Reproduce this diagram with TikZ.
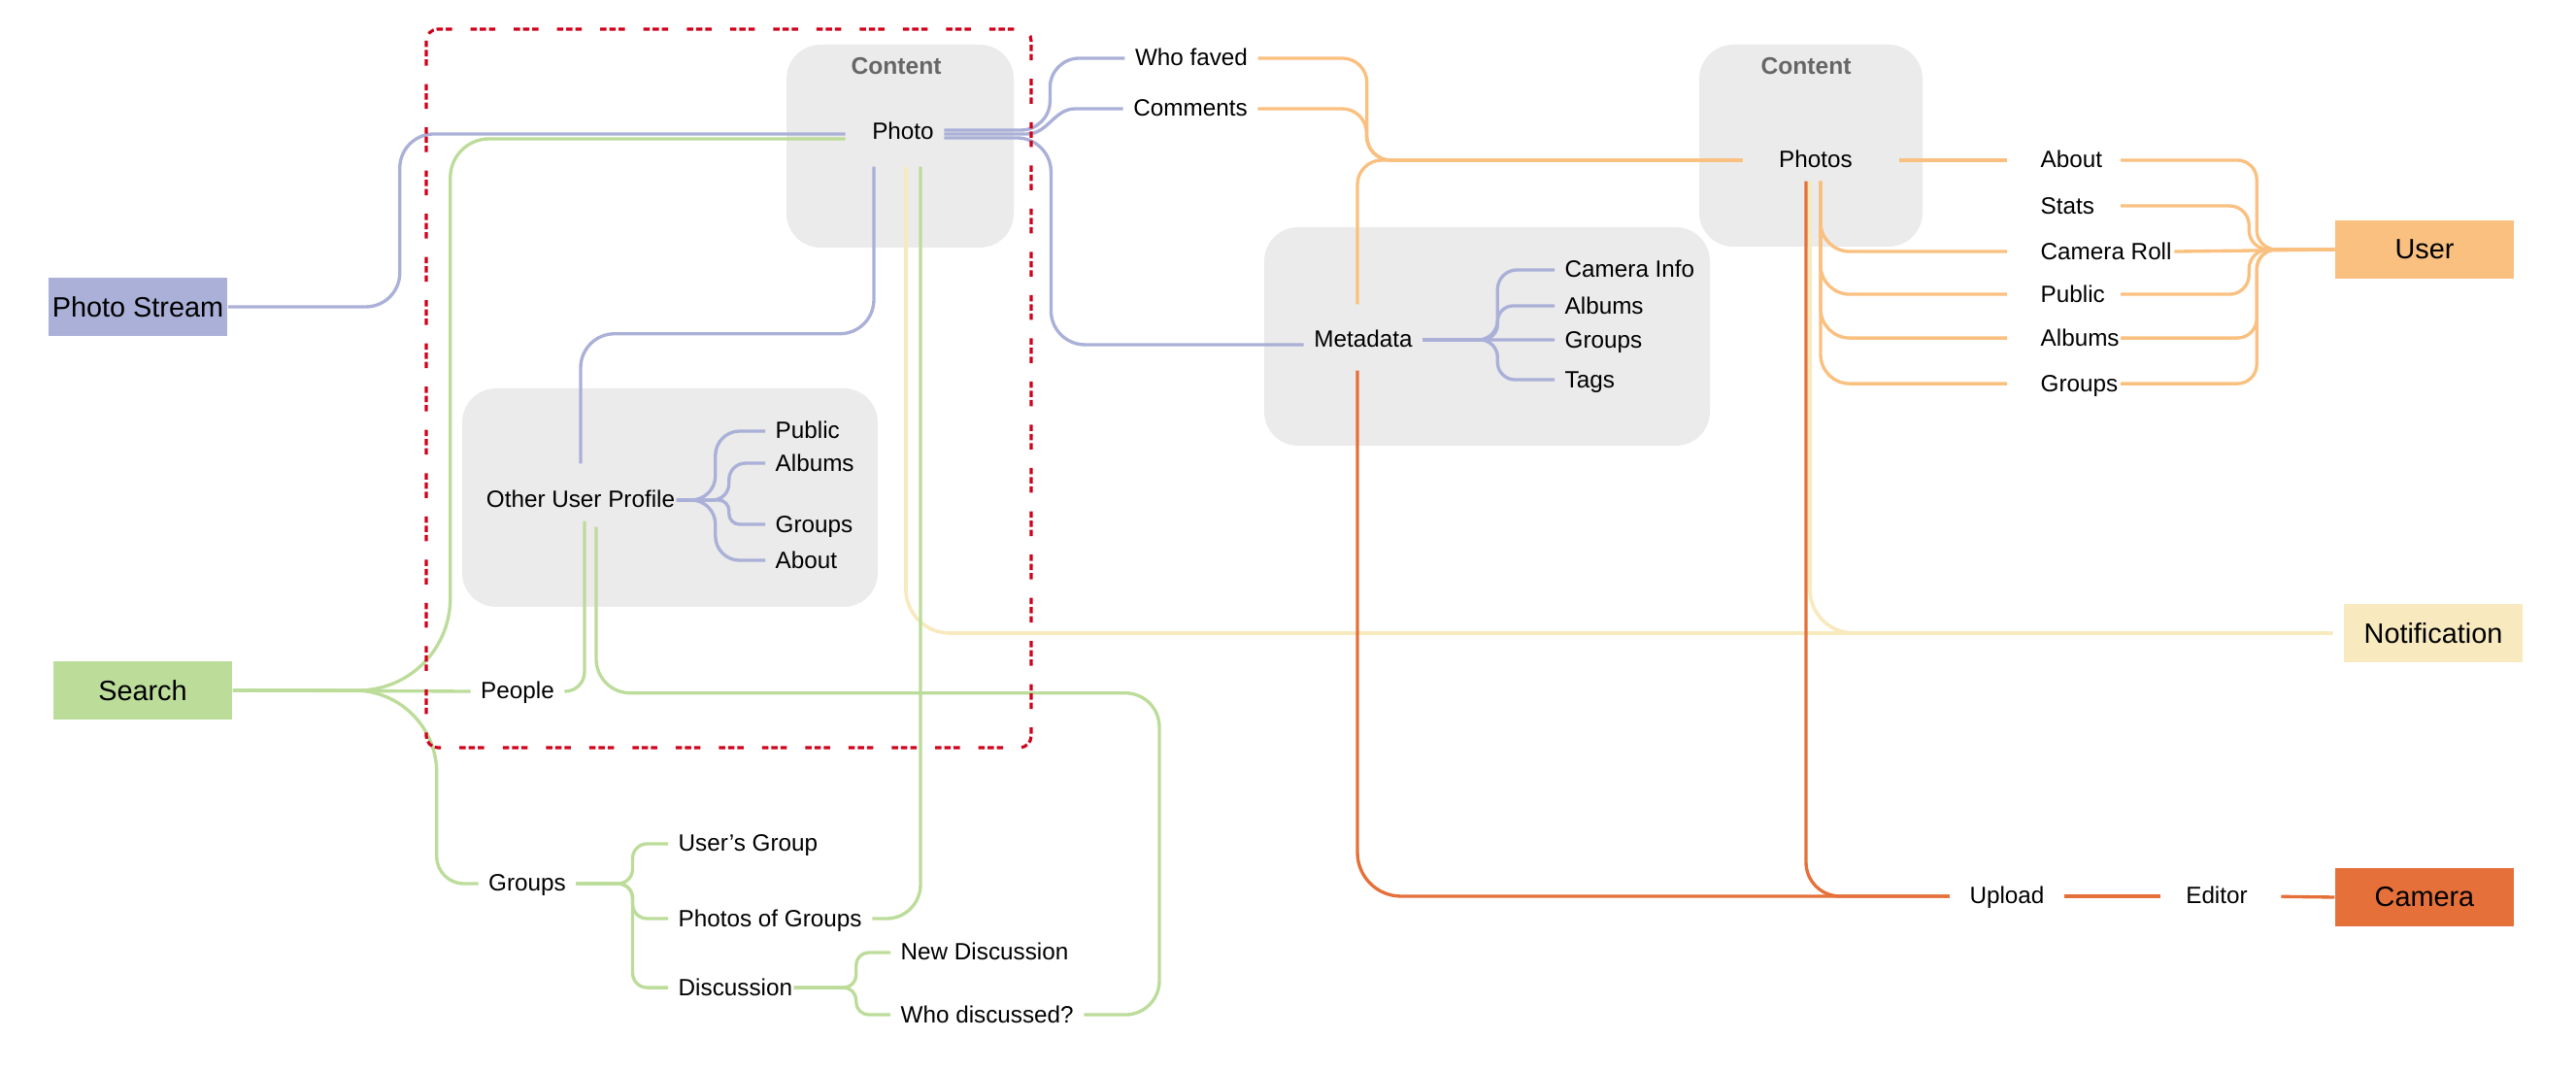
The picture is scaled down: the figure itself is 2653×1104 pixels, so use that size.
\documentclass[tikz,border=0pt]{standalone}
\usepackage{fontspec}
\setmainfont{Liberation Sans}
\usetikzlibrary{positioning,calc}

\definecolor{lavender}{RGB}{170,176,215}
\definecolor{leaf}{RGB}{188,220,154}
\definecolor{peach}{RGB}{249,192,127}
\definecolor{cream}{RGB}{248,234,190}
\definecolor{rust}{RGB}{229,112,58}
\definecolor{cloud}{RGB}{235,235,235}
\definecolor{slate}{RGB}{102,102,102}
\definecolor{alert}{RGB}{208,2,27}

\tikzset{
	lbl/.style={font=\fontsize{6.9}{8}\selectfont, inner sep=0.1cm, text height=0.19cm, text depth=0.03cm},
	hub/.style={font=\fontsize{8.2}{10}\selectfont, minimum width=1.84cm, minimum height=0.6cm, inner sep=0pt},
	zone/.style={fill=cloud, rounded corners=0.35cm},
	zonetitle/.style={lbl, font=\fontsize{7}{8}\selectfont\bfseries, text=slate},
	wire/.style={line width=0.95pt, rounded corners=0.35cm},
	lavwire/.style={wire, draw=lavender},
	leafwire/.style={wire, draw=leaf},
	peachwire/.style={wire, draw=peach},
	creamwire/.style={wire, draw=cream, line width=1.05pt}, % the notification line is a bit heavier
	rustwire/.style={wire, draw=rust},
	scopebox/.style={draw=alert, line width=0.9pt, rounded corners=0.12cm,
		dash pattern=on 0.065cm off 0.03cm on 0.065cm off 0.03cm on 0.065cm off 0.19cm},
}

\begin{document}
\begin{tikzpicture}[x=0.01cm, y=-0.01cm]
      \useasboundingbox (0,0) rectangle (2653,1104);

      % grey groups
      \fill[zone] (810,46) rectangle (1044,255);
      \fill[zone] (1750,46) rectangle (1980,254);
      \fill[zone] (476,400) rectangle (904,625);
      \fill[zone] (1302,234) rectangle (1761,459);
      \node[zonetitle] (content1) at (923,69) {Content};
      \node[zonetitle] (content2) at (1860,69) {Content};

      % hubs
      \node[hub, fill=lavender] (stream) at (142,316) {Photo Stream};
      \node[hub, fill=leaf] (search) at (147,711) {Search};
      \node[hub, fill=peach] (user) at (2497,257) {User};
      \node[hub, fill=cream] (notif) at (2506,652) {Notification};
      \node[hub, fill=rust] (camera) at (2497,924) {Camera};

      \node[lbl] (photo) at (930,136) {Photo};
      \node[lbl] (faved) at (1227,60) {Who faved};
      \node[lbl] (comments) at (1226,112) {Comments};
      \node[lbl] (meta) at (1404,350) {Metadata};
      \node[lbl, anchor=west] (caminfo) at (1601,278) {Camera Info};
      \node[lbl, below=0.37cm of caminfo.west, anchor=west] (malbums) {Albums};
      \node[lbl, below=0.35cm of malbums.west, anchor=west] (mgroups) {Groups};
      \node[lbl, below=0.41cm of mgroups.west, anchor=west] (mtags) {Tags};

      \node[lbl] (other) at (598,515) {Other User Profile};
      \node[lbl, anchor=west] (opublic) at (788,444) {Public};
      \node[lbl, below=0.33cm of opublic.west, anchor=west] (oalbums) {Albums};
      \node[lbl, below=0.63cm of oalbums.west, anchor=west] (ogroups) {Groups};
      \node[lbl, below=0.37cm of ogroups.west, anchor=west] (oabout) {About};

      \node[lbl] (people) at (533,712) {People};
      \node[lbl] (groups) at (543,910) {Groups};
      \node[lbl, anchor=west] (usersgroup) at (688,869) {User’s Group};
      \node[lbl, below=0.77cm of usersgroup.west, anchor=west] (groupphotos) {Photos of Groups};
      \node[lbl, below=0.71cm of groupphotos.west, anchor=west] (discussion) {Discussion};
      \node[lbl, anchor=west] (newdisc) at (917,981) {New Discussion};
      \node[lbl, below=0.64cm of newdisc.west, anchor=west] (whodisc) {Who discussed?};

      \node[lbl] (photos) at (1870,165) {Photos};
      \node[lbl, anchor=west] (about) at (2091,165) {About};
      \node[lbl, below=0.47cm of about.west, anchor=west] (stats) {Stats};
      \node[lbl, below=0.47cm of stats.west, anchor=west] (roll) {Camera Roll};
      \node[lbl, below=0.44cm of roll.west, anchor=west] (public) {Public};
      \node[lbl, below=0.45cm of public.west, anchor=west] (albums) {Albums};
      \node[lbl, below=0.47cm of albums.west, anchor=west] (ugroups) {Groups};
      \node[lbl] (upload) at (2067,923) {Upload};
      \node[lbl] (editor) at (2283,923) {Editor};

      \coordinate (uj) at ($(user.west)+(-80,0)$);
      \coordinate (ujin) at ($(user.west)+(-88,0)$);

      % notification
      \draw[creamwire, rounded corners=0.45cm, shorten >=0.11cm] ([xshift=0.03cm,yshift=-0.14cm]photo.south) |- (notif.west);
      \draw[creamwire, rounded corners=0.45cm, shorten >=0.11cm] ([xshift=-0.06cm]photos.south) |- (notif.west);

      % lavender
      \draw[lavwire, shorten >=0.17cm] (stream.east) -| ++(177,-80) |- ([yshift=-0.02cm]photo.west);
      \draw[lavwire, rounded corners=0.3cm] ([yshift=0.02cm]photo.east) -- ++(109,0) |- (faved.west);
      \draw[lavwire, sharp corners] ([yshift=-0.02cm]photo.east) -- ++(85,0) to[out=0,in=180] ++(50,-26) -- (comments.west);
      \draw[lavwire] ([yshift=-0.06cm]photo.east) -- ++(110,0) |- ([yshift=-0.05cm]meta.west);
      \draw[lavwire, shorten >=0.16cm] ([xshift=-0.3cm,yshift=-0.14cm]photo.south) |- ++(-150,172) -| (other.north);
      \foreach \nm/\gap/\rad in {opublic/40/0.25cm, oalbums/54/0.17cm, ogroups/54/0.11cm, oabout/40/0.25cm}
        \draw[lavwire, rounded corners=\rad] ([xshift=-0.09cm]other.east) -- ++(\gap,0) |- (\nm.west);
      \foreach \nm/\rad in {caminfo/0.2cm, malbums/0.16cm, mtags/0.18cm}
        \draw[lavwire, rounded corners=\rad] (meta.east) -- ++(77,0) |- (\nm.west);
      \draw[lavwire] (meta.east) -- (mgroups.west);

      % green
      \draw[leafwire, sharp corners, shorten >=0.17cm] (search.east) -- ++(129,0) to[out=0,in=-90] ++(95,-95)
        -- ++(0,-433) to[out=90,in=180] ++(40,-40) -- ([yshift=-0.07cm]photo.west);
      \draw[leafwire] (search.east) -- (people.west);
      \draw[leafwire, sharp corners] (search.east) -- ++(125,0) to[out=0,in=90] ++(85,85)
        -- ++(0,86) to[out=-90,in=180] ++(28,28) -- (groups.west);
      \draw[leafwire, rounded corners=0.2cm] (people.east) -| ([xshift=0.04cm]other.south);
      \draw[leafwire] ([xshift=0.16cm,yshift=-0.06cm]other.south) |- ++(580,171) |- (whodisc.east);
      \draw[leafwire] ([xshift=0.18cm,yshift=-0.14cm]photo.south) |- (groupphotos.east);
      \foreach \nm in {usersgroup, groupphotos, discussion}
        \draw[leafwire, rounded corners=0.15cm] (groups.east) -- ++(58,0) |- (\nm.west);
      \foreach \nm in {newdisc, whodisc}
        \draw[leafwire, rounded corners=0.13cm] ([xshift=-0.09cm]discussion.east) -- ++(64,0) |- (\nm.west);

      % orange
      \draw[peachwire, rounded corners=0.25cm, shorten >=0.27cm] (faved.east) -- ++(112,0) |- (photos.west);
      \draw[peachwire, rounded corners=0.25cm, shorten >=0.27cm] (comments.east) -- ++(112,0) |- (photos.west);
      \draw[peachwire, rounded corners=0.25cm, shorten >=0.27cm] ([xshift=-0.06cm,yshift=0.15cm]meta.north) |- (photos.west);
      \draw[peachwire, shorten <=0.37cm, shorten >=0.24cm] (photos.east) -- (about.west);
      \foreach \nm in {roll, public, albums, ugroups}
        \draw[peachwire, rounded corners=0.3cm, shorten >=0.24cm] ([xshift=0.05cm]photos.south) |- (\nm.west);
      \foreach \nm/\jn in {about/uj, stats/ujin, public/ujin, albums/uj, ugroups/uj}
        \draw[peachwire, rounded corners=0.2cm] ($(\nm.west)+(93,0)$) -| (\jn) -- (user.west);
      \draw[peachwire] ([xshift=-0.08cm]roll.east) -- (user.west);

      % camera
      \draw[rustwire, rounded corners=0.45cm, shorten >=0.1cm] ([xshift=-0.06cm,yshift=-0.1cm]meta.south) |- (upload.west);
      \draw[rustwire, shorten >=0.1cm] ([xshift=-0.1cm]photos.south) |- (upload.west);
      \draw[rustwire, shorten <=0.1cm, shorten >=0.16cm] (upload.east) -- (editor.west);
      \draw[rustwire, shorten <=0.24cm] (editor.east) -- (camera.west);

      % scope of the other user's view
      \draw[scopebox] (439,30) rectangle (1062,770);
\end{tikzpicture}
\end{document}
